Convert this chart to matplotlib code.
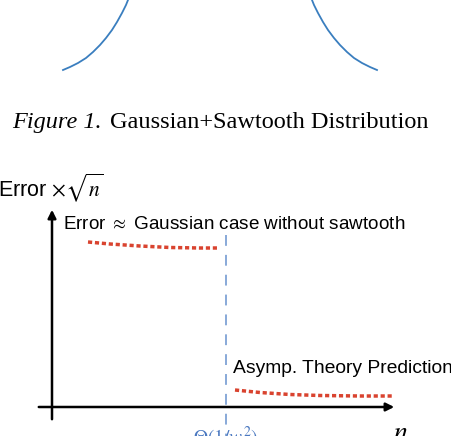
import numpy as np
import matplotlib.pyplot as plt

plt.rcParams['mathtext.fontset'] = 'stix'

# pixel-space data
left_x = [63, 70, 78, 86, 93, 100, 106, 112, 117, 122, 126, 128]
left_y = [70, 67, 63, 58, 52, 45, 38, 30, 22, 13, 5, 0]
right_x = [312, 314, 318, 323, 328, 334, 340, 347, 354, 362, 370, 377]
right_y = [0, 5, 13, 22, 30, 38, 45, 52, 58, 63, 67, 70]

top_x = [88, 110, 140, 170, 200, 217]
top_y = [242, 244, 246, 247.5, 248, 248]
low_x = [235, 260, 290, 320, 360, 392]
low_y = [390, 392.5, 394.5, 395.5, 396, 396]

fig = plt.figure(figsize=(4.52, 4.36), dpi=100)
ax = fig.add_axes([0, 0, 1, 1])
ax.set_xlim(0, 452)
ax.set_ylim(436, 0)
ax.axis('off')

blue = '#3a7ebf'
ax.plot(left_x, left_y, color=blue, lw=1.3)
ax.plot(right_x, right_y, color=blue, lw=1.3)

# caption: italic label + upright title
ax.text(12, 122, 'Figure 1.', ha='left', va='center', style='italic',
        fontsize=17.5, family='Liberation Serif')
ax.text(110, 122, 'Gaussian+Sawtooth Distribution', ha='left', va='center',
        fontsize=17.5, family='Liberation Serif')

# axes arrows
ax.annotate('', xy=(397, 407), xytext=(36, 407),
            arrowprops=dict(arrowstyle='-|>', color='black', lw=1.8, mutation_scale=12))
ax.annotate('', xy=(52, 207), xytext=(52, 422),
            arrowprops=dict(arrowstyle='-|>', color='black', lw=1.8, mutation_scale=12))

ax.plot([226, 226], [235, 436], color='#7fa3d6', lw=1.3, ls=(0, (6, 5)))
ax.plot(top_x, top_y, color='#d9432f', lw=2.5, ls=(0, (1.2, 0.8)))
ax.plot(low_x, low_y, color='#d9432f', lw=2.5, ls=(0, (1.2, 0.8)))

ax.text(-2, 188, r'Error $\times\sqrt{n}$', fontsize=15.5, va='center', family='Liberation Sans')
ax.text(63, 224, r'Error $\approx$ Gaussian case without sawtooth', fontsize=13.6, va='center',
        family='Liberation Sans')
ax.text(233, 368, 'Asymp. Theory Prediction', fontsize=13.9, va='center', family='Liberation Sans')
ax.text(226, 425, r'$\Theta(1/w^2)$', fontsize=14, ha='center', va='top', color='#4a78c0')
ax.text(401, 418, r'$n$', fontsize=20, ha='center', va='top')

fig.savefig('out.png', dpi=100)
